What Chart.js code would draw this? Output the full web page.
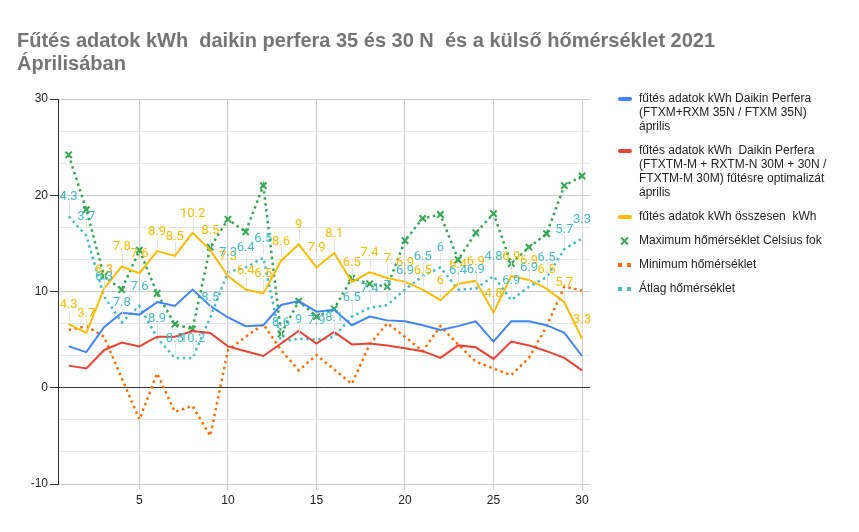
<!DOCTYPE html>
<html lang="hu">
<head>
<meta charset="UTF-8">
<title>Fűtés adatok kWh 2021 április</title>
<script src="https://cdn.jsdelivr.net/npm/chart.js"></script>
<style>
  body { margin: 0; background: #fff; }
  #wrap { width: 859px; height: 532px; }
</style>
</head>
<body>
<div id="wrap"><canvas id="chart" width="859" height="532"></canvas></div>
<script>
// napok (április)
const days = [1, 2, 3, 4, 5, 6, 7, 8, 9, 10, 11, 12, 13, 14, 15, 16, 17, 18, 19, 20, 21, 22, 23, 24, 25, 26, 27, 28, 29, 30];

// kWh értékek
const perfera35 = [4.3, 3.7, 6.3, 7.8, 7.6, 8.9, 8.5, 10.2, 8.5, 7.3, 6.4, 6.5, 8.6, 9, 7.9, 8.1, 6.5, 7.4, 7, 6.9, 6.5, 6, 6.4, 6.9, 4.8, 6.9, 6.9, 6.5, 5.7, 3.3];
const perfera30 = [2.3, 2.0, 3.9, 4.7, 4.3, 5.3, 5.3, 5.9, 5.7, 4.3, 3.8, 3.3, 4.6, 5.9, 4.6, 5.8, 4.5, 4.6, 4.4, 4.1, 3.8, 3.1, 4.4, 4.2, 3.0, 4.8, 4.4, 3.8, 3.1, 1.8];
const totalKwh = [6.6, 5.7, 10.3, 12.6, 11.9, 14.2, 13.7, 16.1, 14.3, 11.6, 10.2, 9.8, 13.2, 14.9, 12.5, 14.0, 11.0, 12.0, 11.4, 11.0, 10.2, 9.1, 10.8, 11.1, 7.8, 11.6, 11.2, 10.3, 8.9, 5.1];

// hőmérséklet
const maxTemp = [24.2, 18.5, 11.6, 10.2, 14.3, 9.8, 6.6, 6.1, 14.6, 17.5, 16.2, 21.0, 5.6, 9.0, 7.4, 8.2, 11.4, 10.8, 10.5, 15.3, 17.6, 18.0, 13.3, 16.1, 18.1, 12.9, 14.6, 16.0, 21.0, 22.0];
const minTemp = [6.0, 6.4, 5.3, 1.0, -3.3, 1.5, -2.5, -1.9, -5.0, 3.9, 5.3, 6.6, 3.9, 1.8, 3.4, 1.9, 0.4, 4.5, 6.7, 5.3, 3.8, 6.4, 4.5, 2.7, 2.0, 1.3, 3.1, 6.4, 10.5, 10.1];
const avgTemp = [17.8, 15.8, 9.5, 6.8, 8.5, 5.2, 3.1, 3.1, 7.3, 12.0, 12.5, 13.5, 4.8, 5.1, 5.0, 5.3, 7.4, 8.3, 8.6, 10.2, 11.6, 12.5, 10.2, 10.3, 11.6, 9.1, 10.5, 11.5, 14.4, 15.5];

const xTicks = [5, 10, 15, 20, 25, 30];
const yMajorTicks = [-10, 0, 10, 20, 30];

const titleLines = ['Fűtés adatok kWh  daikin perfera 35 és 30 N  és a külső hőmérséklet 2021', 'Áprilisában'];
const legendLines = [
  ['fűtés adatok kWh Daikin Perfera', '(FTXM+RXM 35N / FTXM 35N)', 'április'],
  ['fűtés adatok kWh  Daikin Perfera', '(FTXTM-M + RXTM-N 30M + 30N /', 'FTXTM-M 30M) fűtésre optimalizát', 'április'],
  ['fűtés adatok kWh összesen  kWh'],
  ['Maximum hőmérséklet Celsius fok'],
  ['Minimum hőmérséklet'],
  ['Átlag hőmérséklet']
];

const colors = ['#4285f4', '#ea4335', '#fbbc04', '#34a853', '#ff6d01', '#46bdc6'];
const FONT = '"Liberation Sans", Arial, sans-serif';

function pts(arr) {
  return days.map((d, i) => ({ x: d, y: arr[i] }));
}

function solid(label, arr, color) {
  return { label, data: pts(arr), borderColor: color, backgroundColor: color, borderWidth: 2, pointRadius: 0, tension: 0 };
}
function dotted(label, arr, color) {
  return { label, data: pts(arr), borderColor: color, backgroundColor: color, borderWidth: 2.5, borderDash: [2.5, 3.5], pointRadius: 0, tension: 0 };
}

const maxSet = dotted(legendLines[3].join(' '), maxTemp, colors[3]);
maxSet.pointStyle = 'crossRot';
maxSet.pointRadius = 4.5;
maxSet.pointBorderWidth = 2;
maxSet.pointBorderColor = colors[3];

const datasets = [
  solid(legendLines[0].join(' '), perfera35, colors[0]),
  solid(legendLines[1].join(' '), perfera30, colors[1]),
  solid(legendLines[2].join(' '), totalKwh, colors[2]),
  maxSet,
  dotted(legendLines[4].join(' '), minTemp, colors[4]),
  dotted(legendLines[5].join(' '), avgTemp, colors[5])
];

function isMajor(v) {
  return Math.abs(v - Math.round(v / 10) * 10) < 0.01;
}

// fejléc + jelmagyarázat
const decorPlugin = {
  id: 'decor',
  beforeDraw(chart) {
    const ctx = chart.ctx;
    ctx.save();
    ctx.fillStyle = '#fff';
    ctx.fillRect(0, 0, chart.width, chart.height);
    ctx.fillStyle = '#757575';
    ctx.font = 'bold 20px ' + FONT;
    ctx.textBaseline = 'alphabetic';
    ctx.fillText(titleLines[0], 17, 47);
    ctx.fillText(titleLines[1], 17, 70);
    ctx.restore();
  },
  afterDraw(chart) {
    const ctx = chart.ctx;
    ctx.save();
    ctx.font = '12px ' + FONT;
    ctx.textBaseline = 'middle';
    let y = 99;
    legendLines.forEach((lines, i) => {
      const c = colors[i];
      if (i < 3) {
        ctx.fillStyle = c;
        ctx.beginPath();
        ctx.roundRect(618, y - 2, 14, 4, 2);
        ctx.fill();
      } else if (i === 3) {
        ctx.strokeStyle = c;
        ctx.lineWidth = 1.8;
        ctx.beginPath();
        ctx.moveTo(621, y - 3.5); ctx.lineTo(628, y + 3.5);
        ctx.moveTo(628, y - 3.5); ctx.lineTo(621, y + 3.5);
        ctx.stroke();
      } else {
        ctx.fillStyle = c;
        ctx.fillRect(618, y - 2, 4, 4);
        ctx.fillRect(627, y - 2, 4, 4);
      }
      ctx.fillStyle = '#222';
      lines.forEach((t, k) => ctx.fillText(t, 639, y + k * 14));
      y += (lines.length - 1) * 14 + 24;
    });
    ctx.restore();
  }
};

// adatcímkék (a 35N értékei) az összesen és az átlag vonalon
const labelPlugin = {
  id: 'valueLabels',
  afterDatasetsDraw(chart) {
    const ctx = chart.ctx;
    ctx.save();
    ctx.font = '13px Roboto, ' + FONT;
    ctx.textAlign = 'center';
    ctx.textBaseline = 'alphabetic';
    [2, 5].forEach(di => {
      const meta = chart.getDatasetMeta(di);
      meta.data.forEach((p, i) => {
        ctx.strokeStyle = '#e3e3e3';
        ctx.lineWidth = 1;
        ctx.beginPath();
        ctx.moveTo(Math.round(p.x) + 0.5, p.y - 3);
        ctx.lineTo(Math.round(p.x) + 0.5, p.y - 14);
        ctx.stroke();
        ctx.fillStyle = colors[di];
        ctx.fillText(String(perfera35[i]), p.x, p.y - 16);
      });
    });
    ctx.restore();
  }
};

new Chart(document.getElementById('chart'), {
  type: 'line',
  data: { datasets },
  options: {
    responsive: false,
    animation: false,
    events: [],
    layout: { padding: { top: 99, right: 269, bottom: 0, left: 0 } },
    plugins: { legend: { display: false }, title: { display: false }, tooltip: { enabled: false } },
    scales: {
      x: {
        type: 'linear',
        min: 0.4,
        max: 30.45,
        afterBuildTicks(scale) { scale.ticks = xTicks.map(v => ({ value: v })); },
        afterFit(scale) { scale.height = 48; },
        grid: { color: '#cccccc', tickLength: 6, tickColor: '#cccccc' },
        border: { display: false },
        ticks: { font: { family: FONT, size: 12 }, color: '#222', padding: 3, maxRotation: 0 }
      },
      y: {
        min: -10,
        max: 30,
        afterBuildTicks(scale) {
          const t = [];
          for (let k = 0; k < yMajorTicks.length; k++) {
            t.push({ value: yMajorTicks[k] });
            if (k < yMajorTicks.length - 1) {
              t.push({ value: yMajorTicks[k] + 10 / 3 });
              t.push({ value: yMajorTicks[k] + 20 / 3 });
            }
          }
          scale.ticks = t;
        },
        afterFit(scale) { scale.width = 58; },
        grid: {
          color: c => c.tick && Math.abs(c.tick.value) < 0.01 ? '#333' : (c.tick && isMajor(c.tick.value) ? '#cccccc' : '#e6e6e6'),
          tickColor: c => c.tick && isMajor(c.tick.value) ? '#333' : 'rgba(0,0,0,0)',
          tickLength: 8
        },
        border: { display: true, color: '#333', width: 1 },
        ticks: {
          font: { family: FONT, size: 12 },
          color: '#222',
          padding: 2,
          callback: v => isMajor(v) ? String(Math.round(v)) : ''
        }
      }
    }
  },
  plugins: [decorPlugin, labelPlugin]
});
</script>
</body>
</html>
